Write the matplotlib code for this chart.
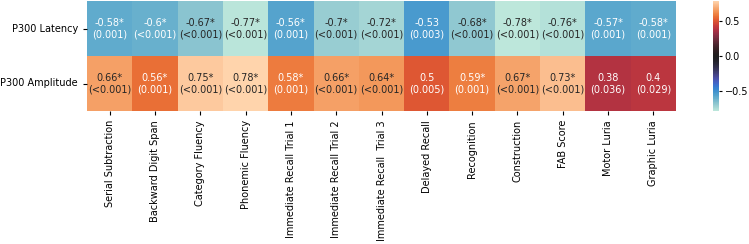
import numpy as np
import pandas as pd
import matplotlib
matplotlib.use('Agg')
import matplotlib.pyplot as plt
import seaborn as sns

# data
tests = ['Serial Subtraction', 'Backward Digit Span', 'Category Fluency', 'Phonemic Fluency',
         'Immediate Recall Trial 1', 'Immediate Recall Trial 2', 'Immediate Recall  Trial 3',
         'Delayed Recall', 'Recognition', 'Construction', 'FAB Score', 'Motor Luria', 'Graphic Luria']
measures = ['P300 Latency', 'P300 Amplitude']

lat_r = [-0.58, -0.6, -0.67, -0.77, -0.56, -0.7, -0.72, -0.53, -0.68, -0.78, -0.76, -0.57, -0.58]
lat_p = ['0.001', '<0.001', '<0.001', '<0.001', '0.001', '<0.001', '<0.001', '0.003',
         '<0.001', '<0.001', '<0.001', '0.001', '0.001']
lat_sig = [1, 1, 1, 1, 1, 1, 1, 0, 1, 1, 1, 1, 1]

amp_r = [0.66, 0.56, 0.75, 0.78, 0.58, 0.66, 0.64, 0.5, 0.59, 0.67, 0.73, 0.38, 0.4]
amp_p = ['<0.001', '0.001', '<0.001', '<0.001', '0.001', '<0.001', '<0.001', '0.005',
         '0.001', '<0.001', '<0.001', '0.036', '0.029']
amp_sig = [1, 1, 1, 1, 1, 1, 1, 0, 1, 1, 1, 0, 0]


def labels(r, p, sig):
    return [f"{v:g}{'*' if s else ''}\n({q})" for v, q, s in zip(r, p, sig)]


df = pd.DataFrame([lat_r, amp_r], index=measures, columns=tests)
annot = np.array([labels(lat_r, lat_p, lat_sig), labels(amp_r, amp_p, amp_sig)])

fig = plt.figure(figsize=(7.49, 2.44), dpi=100)
ax = fig.add_axes([87/749, 1 - 111/244, 589/749, 110/244])
cax = fig.add_axes([713/749, 1 - 111/244, 6/749, 110/244])

sns.heatmap(df, ax=ax, cbar_ax=cax, cmap='icefire', center=0,
            annot=annot, fmt='', annot_kws={'fontsize': 7})

ax.tick_params(labelsize=7, length=3)
ax.set_xticklabels(ax.get_xticklabels(), rotation=90)
ax.set_yticklabels(ax.get_yticklabels(), rotation=0)
cax.tick_params(labelsize=7, length=2.5, pad=1.5)

plt.savefig('out.png', dpi=100)
